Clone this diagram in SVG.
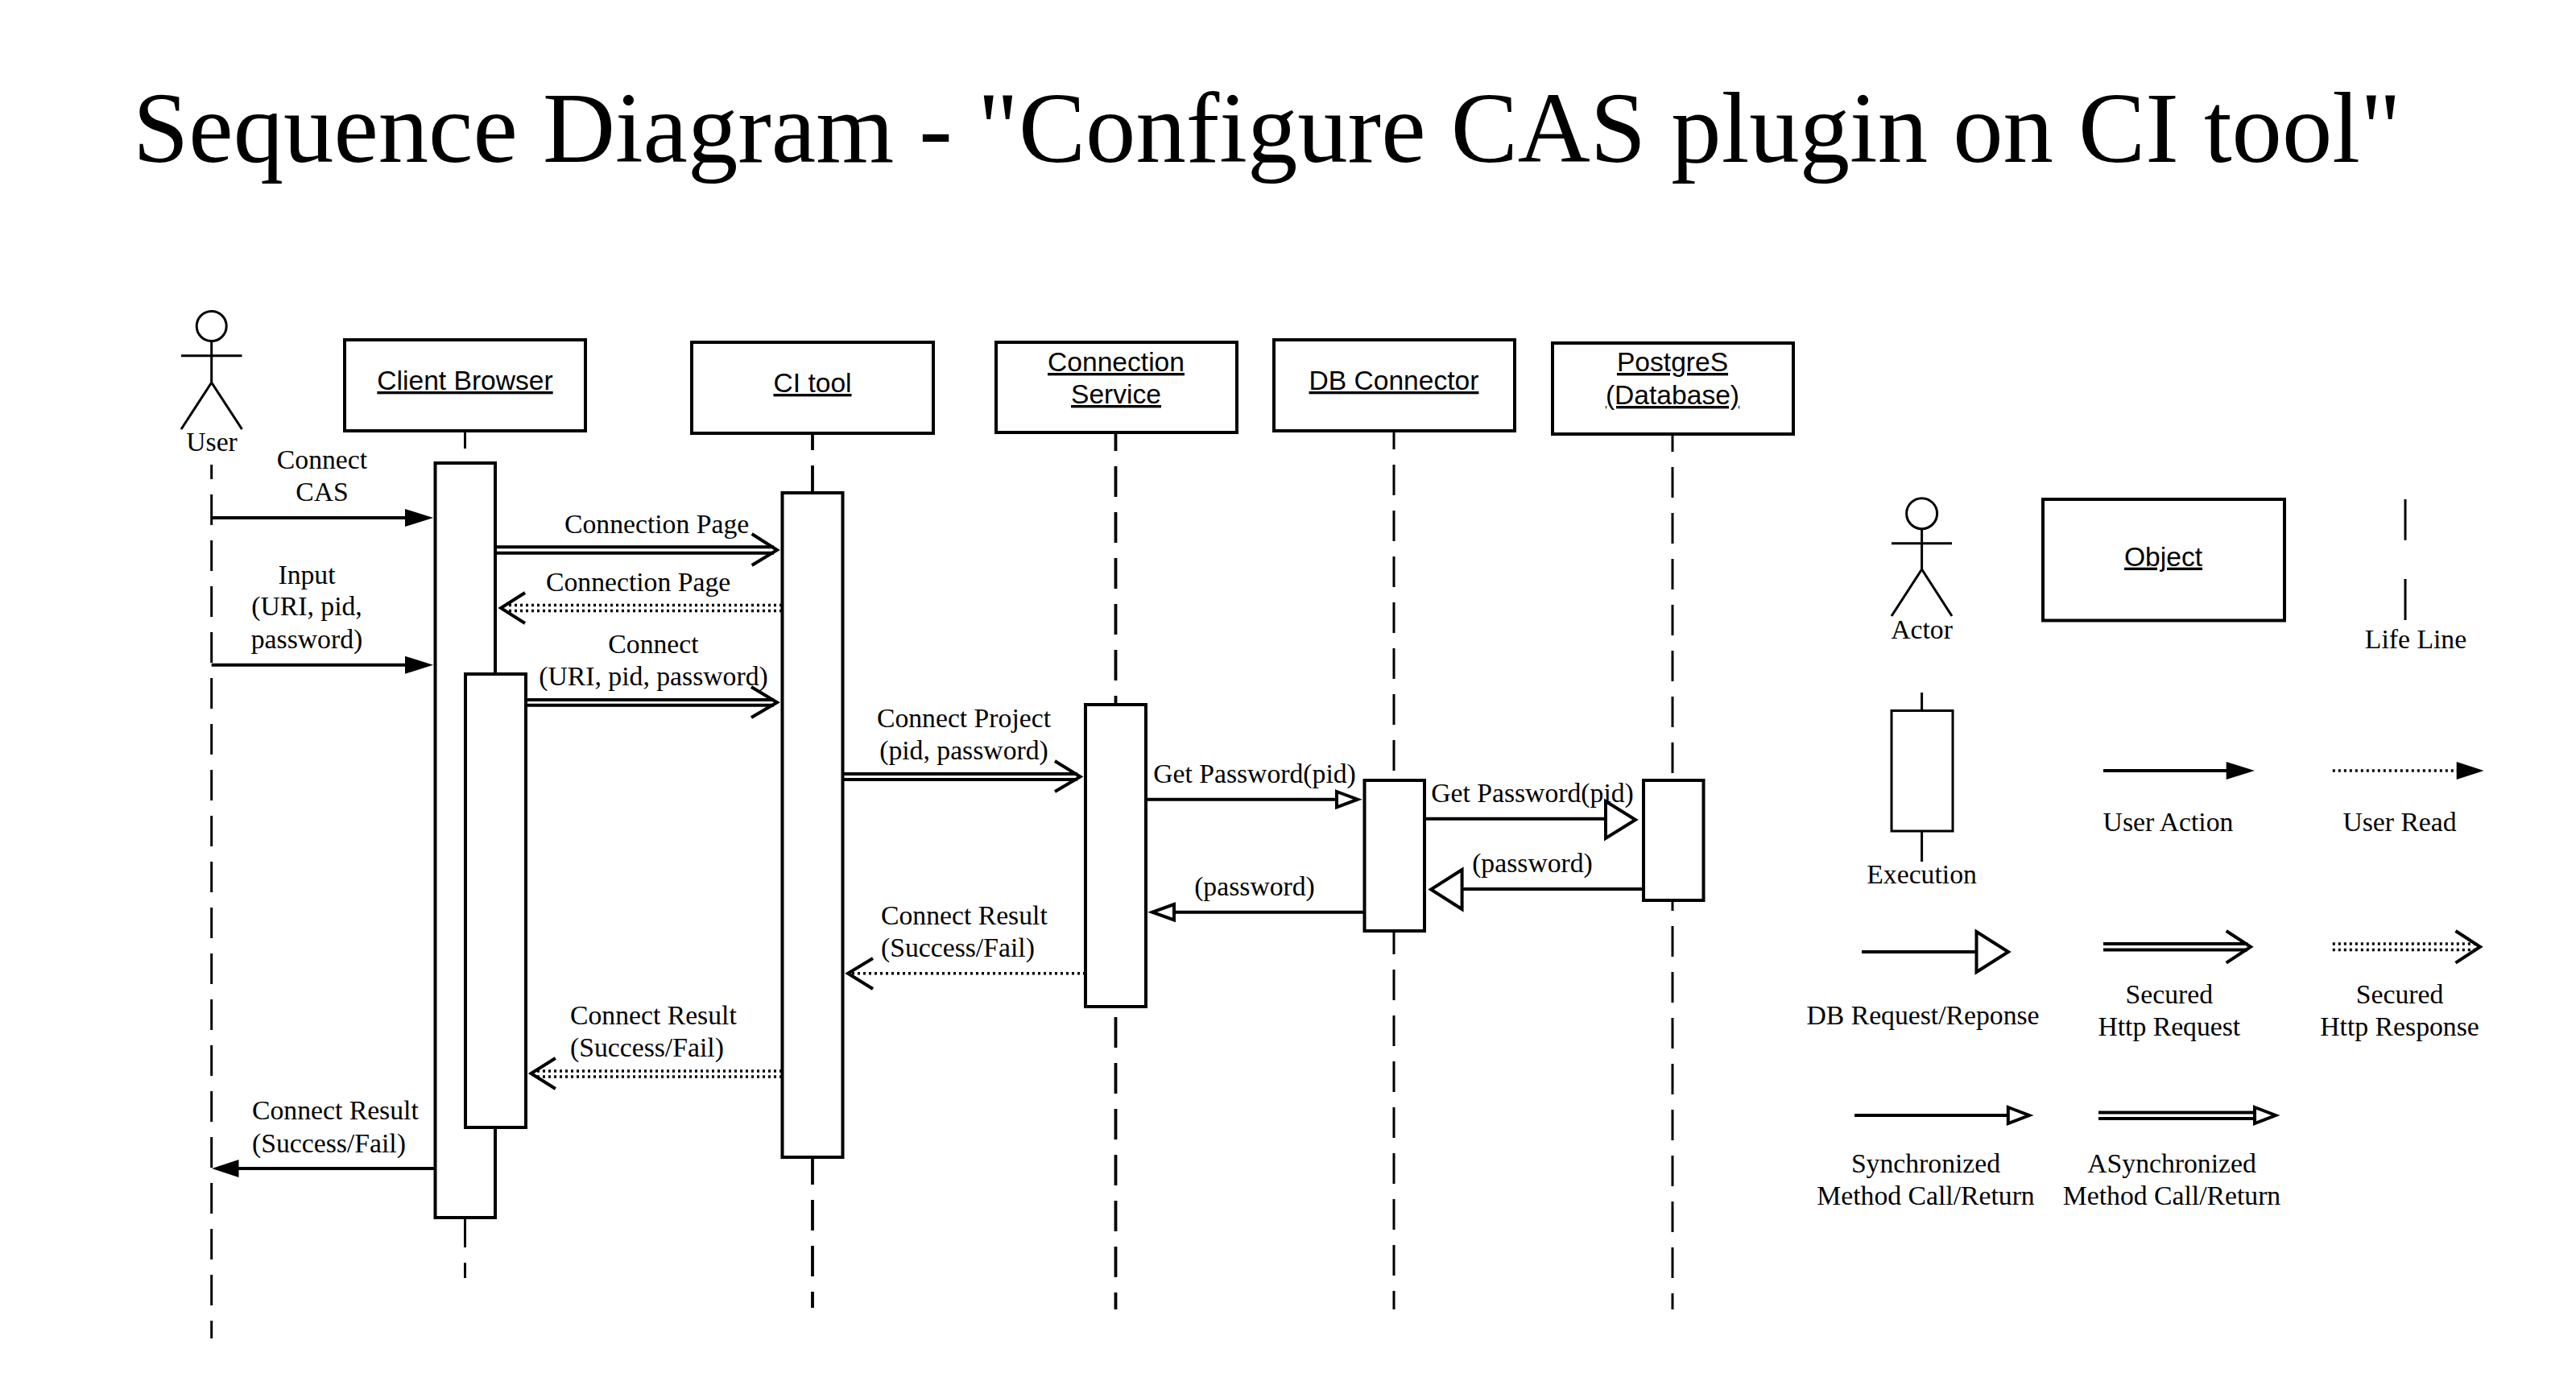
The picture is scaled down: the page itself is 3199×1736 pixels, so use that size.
<svg xmlns="http://www.w3.org/2000/svg" width="3199" height="1736" viewBox="0 0 3199 1736">
<style>
text{font-family:"Liberation Serif","Times New Roman",serif;font-size:33.7px;fill:#000;text-anchor:middle}
.s{font-family:"Liberation Sans",Arial,sans-serif;font-size:33.6px;text-decoration:underline}
.l{text-anchor:start}
.t{font-size:124.7px;text-anchor:start}
.box{fill:#fff;stroke:#000;stroke-width:4}
.ex{fill:#fff;stroke:#000;stroke-width:4}
.ln{fill:none;stroke:#000;stroke-width:4}
.thin{fill:none;stroke:#000;stroke-width:3}
.dash{fill:none;stroke:#000;stroke-width:3;stroke-dasharray:38 19}
.dash2{fill:none;stroke:#000;stroke-width:3.8;stroke-dasharray:38 19}
.dot{fill:none;stroke:#000;stroke-width:3.5;stroke-dasharray:3 4}
.fill{fill:#000;stroke:none}
.open{fill:#fff;stroke:#000;stroke-width:4}
.chev{fill:none;stroke:#000;stroke-width:4}
</style>
<text class="t" x="165" y="201">Sequence Diagram - "Configure CAS plugin on CI tool"</text>
<g id="lifelines">
<path class="dash" d="M262.700 577V1662" stroke-dashoffset="20"/>
<path class="thin" d="M577.500 534V557M577.500 1513V1549M577.500 1568V1587"/>
<path class="dash2" d="M1009 521V1624"/>
<path class="dash2" d="M1385.500 522V1626"/>
<path class="dash" d="M1731 520V1626"/>
<path class="dash" d="M2077 523V1626"/>
</g>
<g id="user"><ellipse class="thin" cx="262.700" cy="405" rx="18.500" ry="18.500"/><path class="thin" d="M262.700 423.500V475M225 441.700H300.500M225 533L262.700 475L300.500 533"/><text x="263" y="560">User</text></g>
<g id="client-browser"><rect class="box" x="428" y="422" width="299" height="113"/><text class="s" x="577.500" y="484">Client Browser</text><rect class="ex" x="540.500" y="575" width="74.500" height="937"/><rect class="ex" x="578" y="837" width="75" height="563"/></g>
<g id="ci-tool"><rect class="box" x="859" y="425" width="300" height="113"/><text class="s" x="1009" y="487">CI tool</text><rect class="ex" x="971.500" y="612" width="75" height="825"/></g>
<g id="connection-service"><rect class="box" x="1237" y="425" width="299" height="112"/><text class="s" x="1386" y="461">Connection</text><text class="s" x="1386" y="501">Service</text><rect class="ex" x="1348" y="875" width="75" height="375"/></g>
<g id="db-connector"><rect class="box" x="1582" y="422" width="299" height="113"/><text class="s" x="1731" y="484">DB Connector</text><rect class="ex" x="1694.500" y="969" width="74.500" height="187"/></g>
<g id="postgres"><rect class="box" x="1928" y="426" width="299" height="113"/><text class="s" x="2077" y="461">PostgreS</text><text class="s" x="2077" y="502">(Database)</text><rect class="ex" x="2041" y="969" width="74.500" height="149"/></g>
<g id="connectors">
<path class="ln" d="M262.700 643H505"/><path class="fill" d="M503 632L538 643L503 654Z"/>
<path class="ln" d="M262.700 825.700H505"/><path class="fill" d="M503 814.700L538 825.700L503 836.700Z"/>
<path class="ln" d="M615 679.300H961M615 686.700H961"/><path class="chev" d="M933.700 663L965 683L933.700 702"/>
<path class="dot" d="M971 751.500H628M971 758.500H628"/><path class="chev" d="M652 736L622 755L652 774"/>
<path class="ln" d="M653 869H961M653 875.700H961"/><path class="chev" d="M933 853L965 872.300L933 891"/>
<path class="ln" d="M1046 961H1338M1046 968H1338"/><path class="chev" d="M1310 945L1341.500 964.500L1310 983"/>
<path class="ln" d="M1423 992.700H1660"/><path class="open" d="M1660 983L1686 992.700L1660 1002.400Z"/>
<path class="ln" d="M1769 1016.700H1994"/><path class="open" d="M1994 995L2031 1018L1994 1041Z"/>
<path class="ln" d="M2041 1104H1816"/><path class="open" d="M1815.600 1080L1777 1104.500L1815.600 1129Z"/>
<path class="ln" d="M1694 1132.700H1458"/><path class="open" d="M1458 1123L1431 1132.700L1458 1142.400Z"/>
<path class="dot" d="M1348 1208.700H1058"/><path class="chev" d="M1084 1190L1053 1208.700L1084 1228"/>
<path class="dot" d="M971 1330H665M971 1337H665"/><path class="chev" d="M689.800 1314L659.500 1333L689.800 1352"/>
<path class="ln" d="M540 1451H295"/><path class="fill" d="M296.500 1440L263 1451L296.500 1462Z"/>
</g>
<g id="message-labels">
<text x="400" y="581.700">Connect</text><text x="400" y="621.700">CAS</text>
<text x="381" y="724.500">Input</text><text x="381" y="764">(URI, pid,</text><text x="381" y="804.500">password)</text>
<text x="815.600" y="661.700">Connection Page</text><text x="792.600" y="734">Connection Page</text>
<text x="811.500" y="811">Connect</text><text x="811.500" y="851">(URI, pid, password)</text>
<text x="1197" y="903">Connect Project</text><text x="1197" y="943">(pid, password)</text>
<text x="1558" y="971.700">Get Password(pid)</text><text x="1903" y="995.700">Get Password(pid)</text>
<text x="1903" y="1082.500">(password)</text><text x="1558" y="1111.700">(password)</text>
<text class="l" x="1094" y="1147.500">Connect Result</text><text class="l" x="1094" y="1187.500">(Success/Fail)</text>
<text class="l" x="708" y="1272">Connect Result</text><text class="l" x="708" y="1312">(Success/Fail)</text>
<text class="l" x="313" y="1389.500">Connect Result</text><text class="l" x="313" y="1430.500">(Success/Fail)</text>
</g>
<g id="legend-actor"><ellipse class="thin" cx="2386.600" cy="637.700" rx="19" ry="19"/><path class="thin" d="M2386.600 656.700V707M2349 674.700H2424M2349 765L2386.600 707L2424 765"/><text x="2386.600" y="793">Actor</text></g>
<g id="legend-object"><rect class="box" x="2537" y="620" width="300" height="150.500"/><text class="s" x="2686.500" y="702.700">Object</text></g>
<g id="legend-lifeline"><path class="thin" d="M2987 620V670.700M2987 719V770"/><text x="3000" y="805">Life Line</text></g>
<g id="legend-execution"><path class="thin" d="M2386.600 860V881.700M2386.600 1032V1070"/><rect class="ex" x="2349" y="882.500" width="76" height="149.500" style="stroke-width:3"/><text x="2386.600" y="1097">Execution</text></g>
<g id="legend-user-action"><path class="ln" d="M2612 957H2766"/><path class="fill" d="M2764.700 946L2800 957L2764.700 968Z"/><text x="2692.500" y="1031.700">User Action</text></g>
<g id="legend-user-read"><path class="dot" d="M2896.800 957H3051"/><path class="fill" d="M3050.700 946L3084.600 957L3050.700 968Z"/><text x="2980" y="1031.700">User Read</text></g>
<g id="legend-db"><path class="ln" d="M2312 1182H2454"/><path class="open" d="M2454.500 1157L2494 1182L2454.500 1207Z"/><text x="2388" y="1271.700">DB Request/Reponse</text></g>
<g id="legend-secured-request"><path class="ln" d="M2612 1172H2791M2612 1179.500H2791"/><path class="chev" d="M2764.700 1156L2795 1175.700L2764.700 1195.700"/><text x="2693.800" y="1245.500">Secured</text><text x="2693.800" y="1285.700">Http Request</text></g>
<g id="legend-secured-response"><path class="dot" d="M2896.800 1172H3075M2896.800 1179.500H3075"/><path class="chev" d="M3049.500 1156L3080 1175.700L3049.500 1195.700"/><text x="2980" y="1245.500">Secured</text><text x="2980" y="1285.700">Http Response</text></g>
<g id="legend-sync"><path class="ln" d="M2303 1385H2494"/><path class="open" d="M2493.800 1375L2520 1385L2493.800 1395Z"/><text x="2391.500" y="1455.500">Synchronized</text><text x="2391.500" y="1495.500">Method Call/Return</text></g>
<g id="legend-async"><path class="ln" d="M2606 1381.500H2800M2606 1389H2800"/><path class="open" d="M2800 1375L2826 1385L2800 1395Z"/><text x="2697" y="1455.500">ASynchronized</text><text x="2697" y="1495.500">Method Call/Return</text></g>
</svg>
